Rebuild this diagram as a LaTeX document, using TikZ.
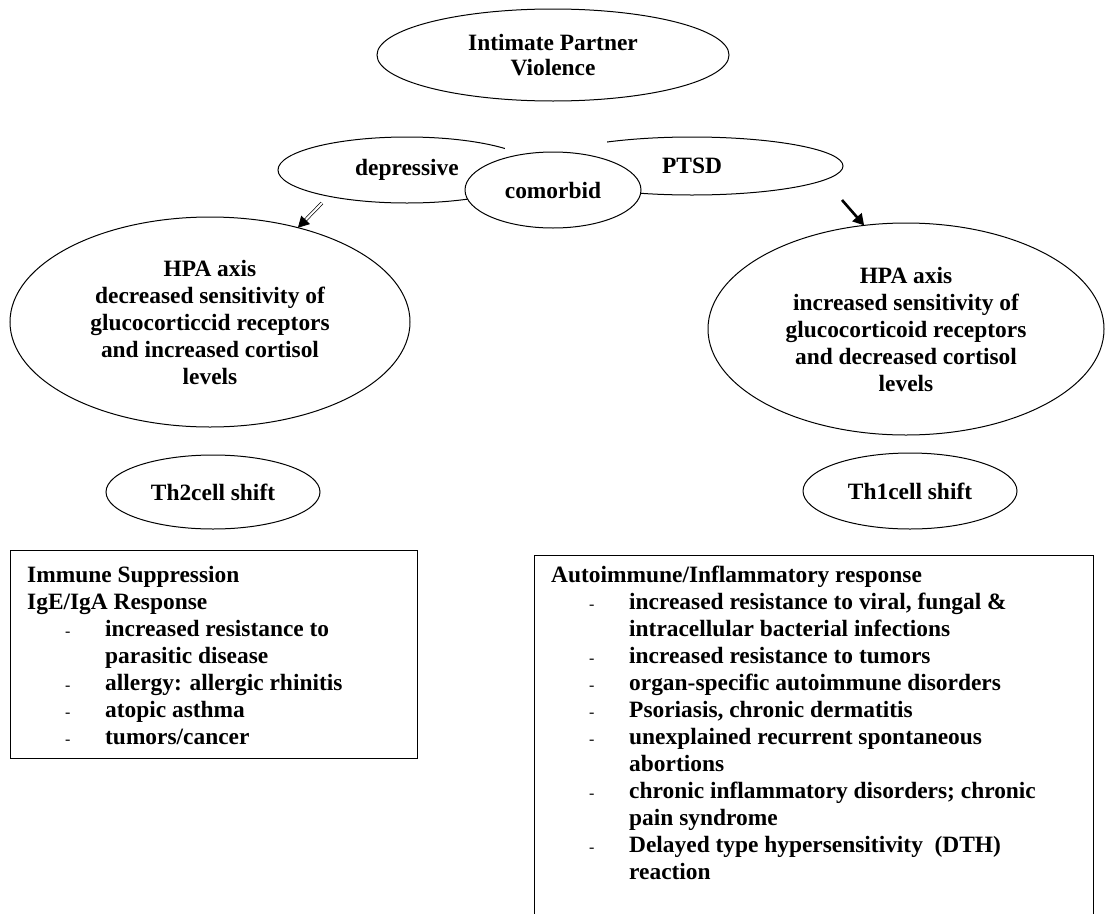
\documentclass[tikz,border=0pt]{standalone}
\usepackage{fontspec}
\setmainfont{Liberation Serif}
\usetikzlibrary{shapes.geometric,arrows.meta}
% dash marker and hanging indent for the bulleted lines in the two panels
\newcommand\dashmark{\makebox[78pt][l]{\hspace*{38pt}{\mdseries\fontsize{16}{27}\selectfont -}}}
\newcommand\hang{\hspace*{78pt}}
\begin{document}
\begin{tikzpicture}[x=1pt,y=-1pt,
  every node/.style={font=\bfseries\fontsize{23.4}{27}\selectfont},
  oval/.style={draw, ellipse, line width=1pt, fill=white, inner sep=0pt, outer sep=0pt, align=center},
  panel/.style={draw, line width=1pt, rectangle, anchor=north west, inner sep=0pt, outer sep=0pt},
  listtext/.style={anchor=north west, align=left, inner sep=0pt},
  openarrow/.style={line width=0.7pt, double=white, double distance=2pt, -{Triangle[length=11pt,width=12pt]}},
  solidarrow/.style={line width=2.6pt, -{Triangle[length=11pt,width=12pt]}}]
\useasboundingbox (0,0) rectangle (1105,913);

% top cause
\node[oval, minimum width=352pt, minimum height=92pt,
      font=\bfseries\fontsize{23.4}{25}\selectfont] (ipv) at (553,55) {Intimate Partner\\Violence};

% overlapping disorder ellipses
\node[oval, minimum width=258pt, minimum height=66pt] (dep) at (407,170) {depressive};
\node[oval, minimum width=302pt, minimum height=58pt] (ptsd) at (692,166) {PTSD};
\fill[white] (505,128) rectangle (607,156);
\node[oval, minimum width=176pt, minimum height=76pt] (comb) at (553,190) {comorbid};

% HPA axis states
\node[oval, minimum width=400pt, minimum height=210pt] (hpaL) at (210,322)
  {HPA axis\\decreased sensitivity of\\glucocorticcid receptors\\and increased cortisol\\levels};
\node[oval, minimum width=396pt, minimum height=212pt] (hpaR) at (906,329)
  {HPA axis\\increased sensitivity of\\glucocorticoid receptors\\and decreased cortisol\\levels};

% arrows into the HPA ellipses
\coordinate (ltail) at (322,203);
\coordinate (rtail) at (842,200);
\draw[openarrow] (ltail) -- (hpaL.47);
\draw[solidarrow] (rtail) -- (hpaR.112);

% T-helper shifts
\node[oval, minimum width=214pt, minimum height=74pt] (th2) at (213,492) {Th2cell shift};
\node[oval, minimum width=214pt, minimum height=76pt] (th1) at (910,491) {Th1cell shift};

% outcome panels
\node[panel, minimum width=407pt, minimum height=208pt] (th2box) at (10,550) {};
\node[listtext] (th2list) at (27,566) {Immune Suppression\\
IgE/IgA Response\\
\dashmark increased resistance to\\
\hang parasitic disease\\
\dashmark allergy: allergic rhinitis\\
\dashmark atopic asthma\\
\dashmark tumors/cancer};

\node[panel, minimum width=559pt, minimum height=420pt] (th1box) at (534,555) {};
\node[listtext] (th1list) at (551,566) {Autoimmune/Inflammatory response\\
\dashmark increased resistance to viral, fungal \&\\
\hang intracellular bacterial infections\\
\dashmark increased resistance to tumors\\
\dashmark organ-specific autoimmune disorders\\
\dashmark Psoriasis, chronic dermatitis\\
\dashmark unexplained recurrent spontaneous\\
\hang abortions\\
\dashmark chronic inflammatory disorders; chronic\\
\hang pain syndrome\\
\dashmark Delayed type hypersensitivity\ \ (DTH)\\
\hang reaction};
\end{tikzpicture}
\end{document}
